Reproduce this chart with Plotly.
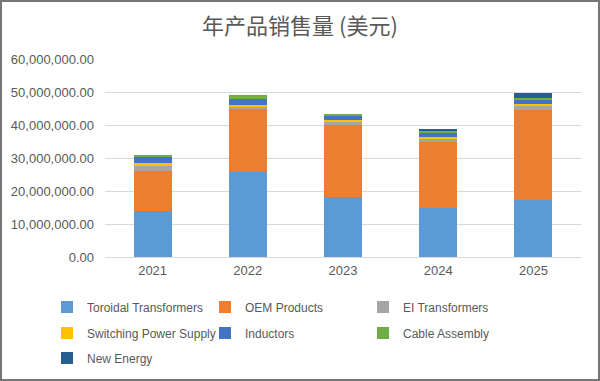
import plotly.graph_objects as go

years = ["2021", "2022", "2023", "2024", "2025"]
series_names = ["Toroidal Transformers", "OEM Products", "EI Transformers",
                "Switching Power Supply", "Inductors", "Cable Assembly", "New Energy"]
toroidal = [13_900_000, 25_900_000, 18_100_000, 15_000_000, 17_400_000]
oem = [12_100_000, 18_900_000, 21_800_000, 19_850_000, 27_200_000]
ei = [1_700_000, 900_000, 1_200_000, 1_100_000, 1_300_000]
switching = [700_000, 500_000, 500_000, 400_000, 600_000]
inductors = [1_800_000, 1_700_000, 1_400_000, 1_400_000, 1_300_000]
cable = [700_000, 1_100_000, 400_000, 600_000, 400_000]
new_energy = [0, 0, 0, 500_000, 1_400_000]

values = [toroidal, oem, ei, switching, inductors, cable, new_energy]
colors = ["#5B9BD5", "#ED7D31", "#A5A5A5", "#FFC000", "#4472C4", "#70AD47", "#255E91"]
legend_rows = ["legend", "legend", "legend", "legend2", "legend2", "legend2", "legend3"]

fig = go.Figure()
for name, vals, col, lg in zip(series_names, values, colors, legend_rows):
    fig.add_trace(go.Bar(x=years, y=vals, name=name, legend=lg,
                         marker=dict(color=col, line=dict(width=0))))

W, H = 600, 381
ml, mr, mt, mb = 105, 19, 59, 124
pw, ph = W - ml - mr, H - mt - mb


def leg(yc):
    return dict(orientation="h", x=(47 - ml) / pw, xanchor="left",
                y=-(yc - mt - ph) / ph, yanchor="middle",
                entrywidth=113, entrywidthmode="pixels",
                font=dict(size=12, color="#595959"), traceorder="normal",
                bgcolor="rgba(0,0,0,0)")


fig.update_layout(
    width=W, height=H,
    barmode="stack", bargap=0.6,
    paper_bgcolor="white", plot_bgcolor="white",
    margin=dict(l=ml, r=mr, t=mt, b=mb, autoexpand=False),
    font=dict(family="Liberation Sans, Arial, sans-serif", size=13, color="#595959"),
    title=dict(text="年产品销售量 (美元)", x=0.5, xref="container", xanchor="center",
               y=1 - 26 / H, yanchor="middle",
               font=dict(family="Noto Sans CJK SC, sans-serif", size=22, color="#595959")),
    xaxis=dict(showgrid=False, showline=False, ticks="", ticklabelstandoff=4,
               tickfont=dict(size=13, color="#595959")),
    yaxis=dict(range=[0, 60_000_000], dtick=10_000_000, tickformat=",.2f",
               showgrid=True, gridcolor="#D9D9D9", gridwidth=1, zeroline=True,
               zerolinecolor="#D9D9D9", zerolinewidth=1, ticks="", ticklabelstandoff=10,
               tickfont=dict(size=13, color="#595959")),
    legend=leg(307),
    legend2=leg(333),
    legend3=leg(358),
    showlegend=True,
)

fig.add_shape(type="rect", xref="paper", yref="paper",
              x0=-(ml - 1) / pw, x1=1 + (mr - 1) / pw,
              y0=-(mb - 1) / ph, y1=1 + (mt - 1) / ph,
              line=dict(color="#767676", width=2), fillcolor="rgba(0,0,0,0)", layer="above")

fig.write_html("out.html")
